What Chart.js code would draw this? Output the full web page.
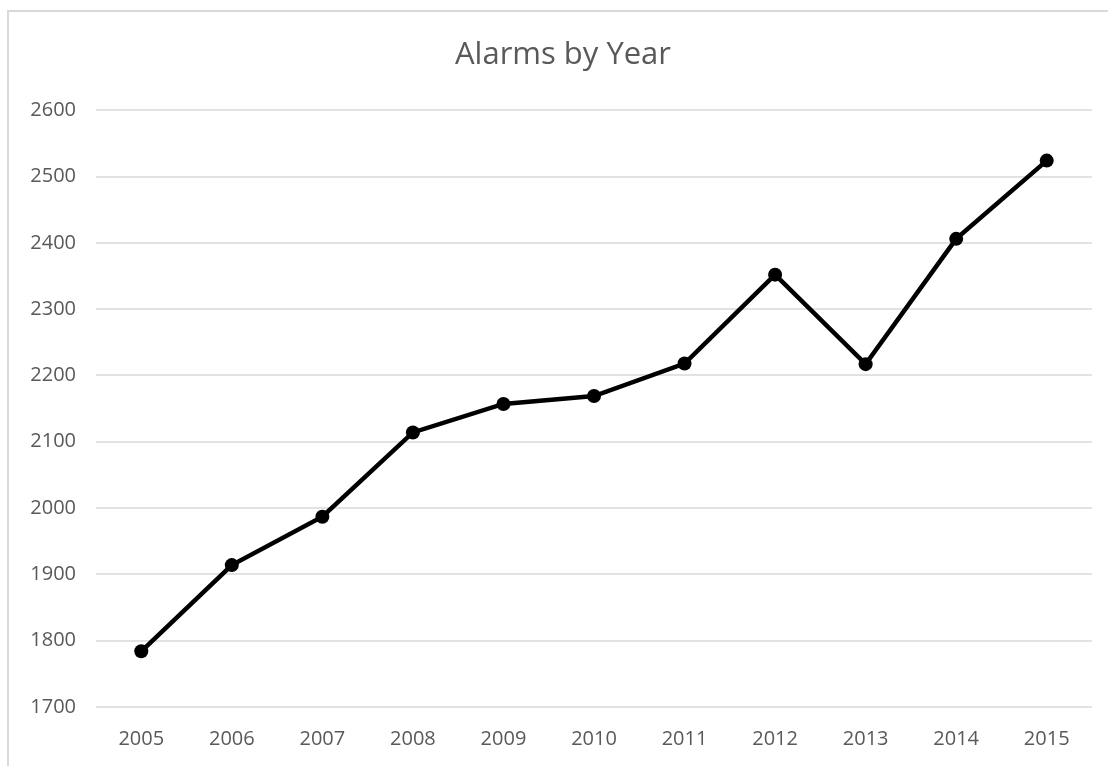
<!DOCTYPE html>
<html>
<head>
<meta charset="utf-8">
<script src="https://cdn.jsdelivr.net/npm/chart.js@4"></script>
<style>
  body { margin: 0; background: #fff; }
  #frame { position: absolute; left: 7px; top: 10px; width: 1200px; height: 900px; border: 2px solid #d9d9d9; }
  #wrap { position: absolute; left: 0; top: 0; width: 1108px; height: 766px; }
</style>
</head>
<body>
<div id="frame"></div>
<div id="wrap"><canvas id="myChart"></canvas></div>
<script>
"use strict"

const years = ["2005", "2006", "2007", "2008", "2009", "2010", "2011", "2012", "2013", "2014", "2015"]
const alarms = [1784, 1914, 1987, 2114, 2157, 2169, 2218, 2352, 2217, 2406, 2524]
const y_min = 1700
const y_max = 2600
const y_step = 100

const text_color = "#595959"
const ctx = document.getElementById("myChart")

// the reference title sits a bit right of the canvas centre
const shift_title = {
  id: "shiftTitle",
  afterLayout(chart) {
    if (chart.titleBlock) chart.titleBlock.left += 34
  }
}

let graph = new Chart(ctx, {
  type: "line",
  data: {
    labels: years,
    datasets: [
      {
        label: "Alarms",
        data: alarms,
        borderColor: "#000",
        backgroundColor: "#000",
        borderWidth: 4.5,
        pointRadius: 7,
        pointBorderWidth: 0,
        tension: 0,
      }
    ]
  },
  options: {
    responsive: true,
    maintainAspectRatio: false,
    animation: { duration: 0 },
    layout: {
      padding: { left: 0, right: 16, top: 0, bottom: 0 }
    },
    plugins: {
      legend: { display: false },
      tooltip: { enabled: false },
      title: {
        display: true,
        text: "Alarms by Year",
        color: text_color,
        font: { family: "Open Sans", size: 31, weight: "normal" },
        padding: { top: 37, bottom: 36 }
      }
    },
    scales: {
      x: {
        offset: true,
        grid: { display: false, drawTicks: false },
        border: { display: false },
        ticks: {
          color: text_color,
          font: { family: "Open Sans", size: 20 },
          padding: 20,
          maxRotation: 0
        },
        afterFit: (scale) => { scale.height = 59 }
      },
      y: {
        min: y_min,
        max: y_max,
        grid: { color: "#e2e2e2", lineWidth: 2, drawTicks: false },
        border: { display: false },
        ticks: {
          stepSize: y_step,
          color: text_color,
          font: { family: "Open Sans", size: 20 },
          padding: 20,
          callback: (value) => String(value)
        },
        afterFit: (scale) => { scale.width = 96 }
      }
    }
  },
  plugins: [shift_title]
})
</script>
</body>
</html>
